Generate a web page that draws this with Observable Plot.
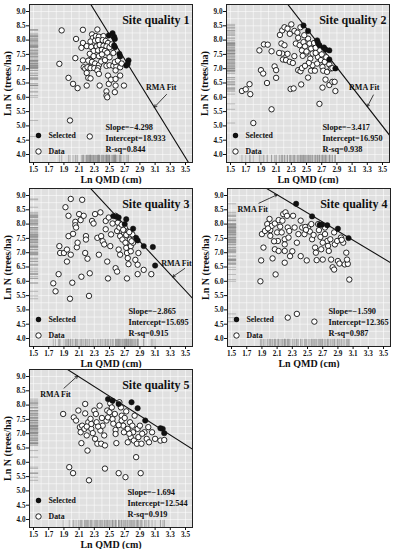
<!DOCTYPE html>
<html><head><meta charset="utf-8">
<script src="https://cdn.jsdelivr.net/npm/d3@7"></script>
<script src="https://cdn.jsdelivr.net/npm/@observablehq/plot@0.6"></script>
<style>
body{margin:0;background:#fff;}
#wrap{position:relative;width:395px;height:550px;overflow:hidden;}
#wrap > div{position:absolute;}
</style></head>
<body><div id="wrap"></div>
<script>
// ---- Data ----
const panelTitles = ["Site quality 1","Site quality 2","Site quality 3","Site quality 4","Site quality 5"];
const slopes = [-4.298, -3.417, -2.865, -1.590, -1.694];
const intercepts = [18.933, 16.950, 15.695, 12.365, 12.544];
const rsq = ["0.844","0.938","0.915","0.987","0.919"];
const xTicks = [1.5,1.7,1.9,2.1,2.3,2.5,2.7,2.9,3.1,3.3,3.5];
const yTicks = [4.0,4.5,5.0,5.5,6.0,6.5,7.0,7.5,8.0,8.5,9.0];

const q1Data = [[1.87,8.34],[1.84,7.17],[1.96,6.68],[2.02,6.47],[2.08,6.32],[1.98,5.19],[2.06,8.04],[2.05,7.37],[2.15,8.36],[2.15,7.90],
[2.13,7.73],[2.20,7.79],[2.15,7.29],[2.16,7.05],[2.18,7.00],[2.20,6.85],[2.20,6.41],[2.22,6.68],[2.25,6.66],[2.24,7.30],
[2.23,7.05],[2.27,8.20],[2.28,8.07],[2.34,8.37],[2.32,8.14],[2.36,8.12],[2.42,8.14],[2.25,7.95],[2.31,7.98],[2.35,8.00],
[2.41,8.00],[2.45,7.97],[2.48,7.90],[2.26,7.76],[2.33,7.78],[2.37,7.83],[2.42,7.80],[2.46,7.78],[2.29,7.62],[2.35,7.64],
[2.40,7.66],[2.44,7.62],[2.50,7.75],[2.24,7.52],[2.29,7.44],[2.36,7.44],[2.40,7.50],[2.47,7.56],[2.22,7.28],[2.27,7.24],
[2.31,7.18],[2.36,7.13],[2.39,7.25],[2.44,7.30],[2.21,7.05],[2.25,7.02],[2.30,7.02],[2.35,7.02],[2.46,7.10],[2.50,7.12],
[2.55,7.10],[2.59,7.08],[2.64,7.05],[2.57,7.23],[2.61,7.28],[2.66,7.18],[2.34,6.94],[2.36,6.82],[2.48,6.76],[2.49,6.47],
[2.52,6.62],[2.58,6.94],[2.58,6.64],[2.64,6.76],[2.58,6.41],[2.57,6.18],[2.69,6.41],[2.46,6.21],[2.46,6.06],[2.47,6.00],
[2.37,6.41],[2.24,4.63],[2.50,7.40],[2.55,7.55],[2.53,7.85]];
const q1Sel = [[2.49,8.16],[2.54,8.24],[2.56,8.12],[2.57,8.04],[2.56,7.81],[2.57,7.75],[2.63,7.52],[2.64,7.43],[2.72,7.11],[2.75,7.29],[2.74,7.17]];

const q2Data = [[1.80,5.10],[1.65,6.22],[1.70,6.28],[1.75,6.46],[1.76,6.11],[1.88,7.64],[1.90,6.95],[1.93,6.83],[1.94,7.85],[1.99,7.84],
[1.98,6.50],[2.04,7.61],[2.08,7.08],[2.10,6.95],[2.10,6.68],[2.04,5.58],[2.15,8.18],[2.18,8.34],[2.21,8.45],[2.30,8.55],
[2.17,7.88],[2.21,7.82],[2.18,7.53],[2.19,7.32],[2.23,7.30],[2.28,7.24],[2.32,7.20],[2.34,7.44],[2.34,8.32],[2.38,8.26],
[2.39,8.08],[2.36,7.88],[2.41,7.82],[2.39,6.95],[2.42,6.91],[2.43,6.45],[2.29,6.29],[2.33,6.31],[2.44,7.64],[2.46,7.93],
[2.48,7.78],[2.49,7.53],[2.52,8.05],[2.54,7.88],[2.56,7.70],[2.58,7.53],[2.55,7.35],[2.58,7.12],[2.56,6.93],[2.52,6.69],
[2.61,6.93],[2.64,7.18],[2.65,7.41],[2.67,7.64],[2.69,7.30],[2.71,7.06],[2.72,6.93],[2.74,7.24],[2.77,6.89],[2.80,7.15],
[2.82,7.01],[2.75,6.62],[2.80,6.43],[2.71,6.34],[2.84,6.54],[2.87,6.54],[2.88,6.22],[2.67,5.77],[2.60,7.90],[2.62,7.73],
[2.47,8.17],[2.28,8.22],[2.25,8.40],[2.42,8.45],[2.45,7.45],[2.50,7.60],[2.53,7.20],[2.62,7.55],[2.70,7.50],[2.76,7.40],
[2.84,7.02],[2.44,7.02],[2.48,7.10],[2.14,7.55],[2.25,7.52]];
const q2Sel = [[2.46,8.51],[2.52,8.32],[2.64,7.99],[2.65,7.91],[2.67,7.82],[2.73,7.74],[2.75,7.67],[2.80,7.64],[2.80,7.32],[2.88,7.01]];

const q3Data = [[1.76,5.93],[1.79,5.65],[1.83,6.25],[1.84,7.23],[1.85,6.99],[1.90,6.99],[1.92,8.59],[1.94,6.69],[1.94,7.11],[1.96,7.58],
[1.96,8.29],[1.98,5.39],[1.99,8.88],[1.99,6.93],[2.01,5.95],[2.02,7.66],[2.05,8.08],[2.05,7.96],[2.06,7.88],[2.07,7.19],
[2.08,7.35],[2.10,8.35],[2.12,8.14],[2.14,8.85],[2.13,6.16],[2.16,8.29],[2.18,6.99],[2.19,7.58],[2.19,7.46],[2.21,6.79],
[2.23,5.49],[2.24,6.28],[2.27,8.11],[2.29,8.02],[2.31,8.35],[2.34,7.52],[2.36,6.93],[2.38,8.41],[2.39,7.58],[2.41,7.40],
[2.43,7.29],[2.45,8.11],[2.45,7.82],[2.47,6.69],[2.48,6.10],[2.49,8.23],[2.51,7.23],[2.52,7.64],[2.54,8.02],[2.58,6.46],
[2.60,6.34],[2.58,8.29],[2.61,8.05],[2.60,7.76],[2.63,7.88],[2.64,7.58],[2.67,7.46],[2.69,7.70],[2.70,7.88],[2.71,7.35],
[2.72,7.17],[2.73,6.99],[2.74,6.81],[2.75,7.58],[2.77,7.46],[2.78,7.23],[2.78,7.05],[2.73,6.10],[2.75,6.60],[2.81,7.35],
[2.83,7.52],[2.84,6.75],[2.87,6.58],[2.87,6.25],[2.88,6.99],[2.95,6.40],[3.05,6.25],[2.80,7.64],[2.62,7.11],[2.64,6.93],
[2.66,7.98],[2.68,7.80],[2.72,7.62],[2.76,7.72],[2.79,7.40]];
const q3Sel = [[2.55,8.28],[2.59,8.26],[2.62,8.23],[2.72,8.17],[2.70,8.00],[2.81,7.84],[2.85,7.52],[2.87,7.43],[2.95,7.23],[3.07,7.20],[3.10,6.55]];

const q4Data = [[1.88,6.00],[1.89,6.73],[1.92,7.18],[1.90,7.65],[1.94,7.76],[1.97,8.00],[2.00,8.18],[2.01,7.79],[2.01,7.59],[2.03,7.94],
[2.04,6.80],[2.07,8.02],[2.07,7.12],[2.08,6.24],[2.10,7.71],[2.11,7.41],[2.12,7.06],[2.12,8.14],[2.14,7.91],[2.16,7.71],
[2.17,8.12],[2.18,8.35],[2.20,7.47],[2.20,7.29],[2.20,7.06],[2.20,6.65],[2.21,8.41],[2.23,8.29],[2.24,7.88],[2.25,7.53],
[2.26,7.76],[2.27,6.88],[2.31,8.29],[2.33,7.88],[2.36,7.35],[2.38,7.65],[2.41,8.12],[2.41,6.88],[2.43,7.88],[2.46,7.65],
[2.49,6.73],[2.51,7.91],[2.53,7.74],[2.55,8.00],[2.56,7.47],[2.60,7.18],[2.61,7.00],[2.62,6.74],[2.64,8.00],[2.65,7.79],
[2.67,7.55],[2.68,7.12],[2.70,6.76],[2.73,7.65],[2.73,7.88],[2.76,7.41],[2.77,7.24],[2.78,7.06],[2.80,7.47],[2.81,6.76],
[2.83,6.49],[2.85,6.41],[2.85,7.71],[2.86,7.29],[2.89,7.41],[2.90,6.71],[2.92,6.62],[2.94,7.53],[2.97,7.35],[2.99,6.59],
[3.01,7.00],[3.03,6.61],[3.02,6.76],[3.05,6.06],[2.24,4.73],[2.36,4.86],[2.59,4.59],[2.47,7.90],[2.58,7.62],[2.70,7.35],
[2.48,7.80],[2.95,7.45],[2.30,7.05],[2.06,7.40],[1.98,7.85]];
const q4Sel = [[2.35,8.71],[2.56,8.27],[2.66,7.98],[2.69,7.98],[2.76,7.96],[2.90,7.84],[3.04,7.51]];

const q5Data = [[1.89,7.69],[1.97,5.83],[2.02,5.62],[2.03,7.57],[2.06,7.46],[2.09,7.81],[2.11,7.23],[2.12,7.05],[2.13,6.67],[2.14,7.28],
[2.17,7.17],[2.18,8.04],[2.18,7.71],[2.20,6.94],[2.21,6.41],[2.22,7.40],[2.23,5.37],[2.25,7.52],[2.26,7.17],[2.26,7.34],
[2.28,7.02],[2.30,7.81],[2.31,6.82],[2.32,7.69],[2.33,7.40],[2.34,6.65],[2.37,7.98],[2.38,7.11],[2.39,6.65],[2.41,7.28],
[2.43,6.94],[2.44,6.59],[2.44,5.78],[2.46,7.46],[2.47,7.81],[2.48,7.57],[2.50,7.75],[2.51,8.06],[2.53,7.92],[2.54,7.51],
[2.57,7.69],[2.58,7.13],[2.58,6.99],[2.59,6.67],[2.62,5.62],[2.63,8.10],[2.65,7.92],[2.66,7.63],[2.66,7.46],[2.68,7.28],
[2.69,7.05],[2.71,5.48],[2.72,7.78],[2.74,7.17],[2.74,6.70],[2.77,7.40],[2.78,6.88],[2.80,7.28],[2.81,7.05],[2.82,6.76],
[2.83,7.63],[2.85,6.18],[2.86,6.65],[2.87,7.17],[2.88,6.88],[2.90,7.28],[2.91,5.62],[2.92,6.65],[2.96,7.05],[2.99,6.82],
[3.01,7.23],[3.02,6.70],[3.06,7.05],[3.10,6.82],[3.17,6.76],[3.22,6.78],[2.35,7.25],[2.55,7.35],[2.70,7.55],[2.93,7.00],
[2.40,7.55],[2.62,7.30],[2.20,7.25],[2.76,7.00]];
const q5Sel = [[2.48,8.21],[2.54,8.15],[2.62,8.04],[2.79,8.10],[2.87,7.89],[2.97,7.46],[3.17,7.19],[3.20,7.17],[3.22,7.02]];

// RMA Fit annotation: label position, arrow start, arrowhead x on the fitted line
const rmaLabel = [[3.18,6.33],[3.26,6.35],[3.38,6.64],[1.78,8.53],[1.79,8.39]];
const rmaArrowFrom = [[3.25,6.10],[3.38,6.08],[3.49,6.45],[1.86,8.73],[1.90,8.59]];
const rmaArrowToX = [3.09,3.30,3.33,2.10,2.08];

// ---- Layout ----
const panelPos = [[0,0],[197,0],[0,184],[198,184],[0,365]];
const statsDx = [76,96,99,101,98];
const allData = [q1Data,q2Data,q3Data,q4Data,q5Data];
const allSel = [q1Sel,q2Sel,q3Sel,q4Sel,q5Sel];

const XMIN = 1.447, XMAX = 3.592, YMIN = 3.72, YMAX = 9.245;
const FONT = "'Liberation Serif','Times New Roman',serif";
const gridXT = d3.range(15, 36).map(d => d / 10);
const gridYT = d3.range(16, 37).map(d => d / 4);

function makePanel(i) {
  const pts = allData[i].map(([x,y]) => ({x, y}));
  const sel = allSel[i].map(([x,y]) => ({x, y}));
  const both = pts.concat(sel);
  const fit = x => intercepts[i] + slopes[i] * x;
  const line = [XMIN, XMAX].map(x => ({x, y: fit(x)}));
  const ann = [{x1: rmaArrowFrom[i][0], y1: rmaArrowFrom[i][1], x2: rmaArrowToX[i], y2: fit(rmaArrowToX[i])}];
  const stats = `Slope=${slopes[i].toFixed(3).replace("-", "\u2212")}\nIntercept=${intercepts[i].toFixed(3)}\nR-sq=${rsq[i]}`;
  return Plot.plot({
    width: 195, height: 184,
    marginLeft: 29, marginRight: 3, marginTop: 4, marginBottom: 22,
    x: {domain: [XMIN, XMAX]},
    y: {domain: [YMIN, YMAX]},
    style: {fontFamily: FONT, fontWeight: "bold", background: "transparent", color: "#111"},
    marks: [
      Plot.frame({fill: "#e0e0e0"}),
      Plot.gridX({ticks: gridXT, stroke: "#fff", strokeOpacity: 0.9, strokeWidth: 0.6}),
      Plot.gridY({ticks: gridYT, stroke: "#fff", strokeOpacity: 0.9, strokeWidth: 0.6}),
      Plot.ruleY(both, {y: "y", x1: XMIN, x2: XMIN + 0.12, stroke: "#888", strokeWidth: 0.5}),
      Plot.ruleX(both, {x: "x", y1: YMIN, y2: YMIN + 0.25, stroke: "#888", strokeWidth: 0.5}),
      Plot.line(line, {x: "x", y: "y", stroke: "#111", strokeWidth: 1.1, clip: true}),
      Plot.dot(pts, {x: "x", y: "y", r: 2.7, stroke: "#111", strokeWidth: 0.9, fill: "#fff"}),
      Plot.dot(sel, {x: "x", y: "y", r: 2.7, fill: "#111", stroke: "#111", strokeWidth: 0.5}),
      Plot.arrow(ann, {x1: "x1", y1: "y1", x2: "x2", y2: "y2", stroke: "#111", strokeWidth: 0.8, headLength: 5, insetEnd: 0}),
      Plot.text([{x: rmaLabel[i][0], y: rmaLabel[i][1]}], {x: "x", y: "y", text: () => "RMA Fit", fontSize: 8, fill: "#111"}),
      Plot.text([panelTitles[i]], {text: d => d, frameAnchor: "top-right", textAnchor: "end", dx: -3, dy: 11, fontSize: 12, fill: "#111"}),
      Plot.dot([0], {frameAnchor: "bottom-left", dx: 9, dy: -27, r: 2.7, fill: "#111"}),
      Plot.dot([0], {frameAnchor: "bottom-left", dx: 9, dy: -11, r: 2.7, fill: "#fff", stroke: "#111", strokeWidth: 0.9}),
      Plot.text(["Selected"], {text: d => d, frameAnchor: "bottom-left", textAnchor: "start", lineAnchor: "middle", dx: 19, dy: -27, fontSize: 7.8, fill: "#111"}),
      Plot.text(["Data"], {text: d => d, frameAnchor: "bottom-left", textAnchor: "start", lineAnchor: "middle", dx: 19, dy: -11, fontSize: 7.8, fill: "#111"}),
      Plot.text([stats], {text: d => d, frameAnchor: "bottom-left", textAnchor: "start", lineAnchor: "bottom", lineHeight: 1.35, dx: statsDx[i], dy: -10.5, fontSize: 8.3, fill: "#111"}),
      Plot.frame({stroke: "#222", strokeWidth: 1}),
      Plot.axisX({ticks: xTicks, tickFormat: d => d.toFixed(1), tickSize: 3, tickPadding: 1, fontSize: 7.2, label: null}),
      Plot.axisY({ticks: yTicks, tickFormat: d => d.toFixed(1), tickSize: 3, tickPadding: 1, fontSize: 7.2, label: null}),
      Plot.text(["Ln QMD (cm)"], {text: d => d, frameAnchor: "bottom", lineAnchor: "middle", dy: 17, fontSize: 10, fill: "#111"}),
      Plot.text(["Ln N (trees/ha)"], {text: d => d, frameAnchor: "left", textAnchor: "middle", lineAnchor: "middle", rotate: -90, dx: -22, fontSize: 10, fill: "#111"})
    ]
  });
}

const wrap = document.getElementById("wrap");
for (let i = 0; i < 5; i++) {
  const d = document.createElement("div");
  d.style.left = panelPos[i][0] + "px";
  d.style.top = panelPos[i][1] + "px";
  d.appendChild(makePanel(i));
  wrap.appendChild(d);
}
</script></body></html>
